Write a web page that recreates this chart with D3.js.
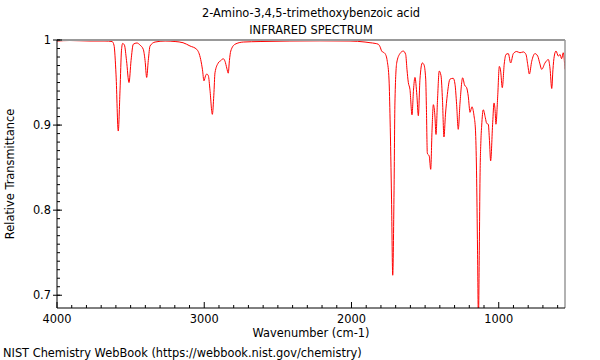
<!DOCTYPE html>
<html><head><meta charset="utf-8">
<script src="https://cdn.jsdelivr.net/npm/d3@7"></script>
<style>body{margin:0;background:#fff}svg{display:block;font-family:"DejaVu Sans",sans-serif}</style>
</head><body><svg id="c" width="600" height="360"></svg>
<script>
const titleLines = ["2-Amino-3,4,5-trimethoxybenzoic acid", "INFRARED SPECTRUM"];
const xLabel = "Wavenumber (cm-1)";
const yLabel = "Relative Transmittance";
const credit = "NIST Chemistry WebBook (https://webbook.nist.gov/chemistry)";
const xTicks = [4000, 3000, 2000, 1000];
const yTicks = [1, 0.9, 0.8, 0.7];
const yTickLabels = ["1", "0.9", "0.8", "0.7"];
const wavenumber = [4000,3912,3776,3674,3626,3613,3599,3584,3572,3562,3554,3542,3528,3511,3497,3482,3457,3436,3414,3402,3391,3380,3368,3334,3266,3198,3144,3097,3051,3024,3012,3002,2991,2983,2972,2961,2945,2935,2927,2905,2886,2871,2859,2847,2837,2829,2820,2791,2735,2621,2418,2214,2010,1908,1874,1840,1818,1806,1795,1772,1757,1745,1738,1728,1720,1711,1705,1693,1671,1648,1632,1623,1614,1603,1589,1579,1569,1556,1546,1535,1519,1508,1496,1491,1485,1472,1462,1453,1444,1434,1426,1416,1404,1392,1382,1372,1362,1349,1331,1309,1297,1286,1275,1263,1245,1232,1218,1207,1195,1182,1168,1158,1151,1144,1138,1132,1127,1121,1116,1105,1091,1082,1071,1063,1055,1041,1032,1025,1019,1007,996,987,976,962,951,935,919,901,878,856,833,815,803,792,776,754,735,722,708,686,663,652,640,632,623,611,595,584,573,562,550];
const transmittance = [0.9988,0.9994,0.9988,0.9988,0.9982,0.994,0.959,0.893,0.941,0.988,0.996,0.994,0.976,0.950,0.976,0.995,0.9965,0.994,0.989,0.976,0.956,0.976,0.993,0.9976,0.9988,0.9982,0.9968,0.993,0.989,0.977,0.965,0.952,0.958,0.960,0.958,0.941,0.9126,0.935,0.9615,0.973,0.976,0.978,0.975,0.967,0.961,0.976,0.987,0.995,0.9976,0.9982,0.9988,0.999,0.9988,0.9976,0.9968,0.996,0.995,0.992,0.987,0.984,0.975,0.953,0.907,0.812,0.7235,0.8235,0.926,0.973,0.984,0.987,0.983,0.965,0.950,0.942,0.912,0.941,0.956,0.935,0.911,0.954,0.973,0.971,0.954,0.918,0.867,0.8635,0.848,0.894,0.924,0.912,0.889,0.929,0.9635,0.958,0.929,0.886,0.912,0.936,0.954,0.955,0.948,0.924,0.895,0.926,0.9556,0.947,0.944,0.934,0.915,0.9215,0.911,0.894,0.847,0.753,0.67,0.753,0.84,0.882,0.899,0.918,0.9086,0.902,0.901,0.882,0.858,0.903,0.926,0.918,0.901,0.934,0.969,0.9635,0.944,0.973,0.983,0.984,0.973,0.984,0.9865,0.985,0.986,0.983,0.971,0.960,0.975,0.984,0.981,0.973,0.9655,0.973,0.977,0.967,0.943,0.965,0.981,0.987,0.981,0.983,0.978,0.985,0.9655];

const svg = d3.select("#c");
const L = 57, R = 565, T = 40, B = 308;
const FS = 11.4;
const x = d3.scaleLinear().domain([4000, 550]).range([L, R]);
const y = d3.scaleLinear().domain([0.685, 1.0]).range([B, T]);

svg.append("clipPath").attr("id","clip").append("rect")
  .attr("x", L).attr("y", T).attr("width", R - L).attr("height", B - T);

const data = wavenumber.map((w, i) => [w, transmittance[i]]);
svg.append("path").datum(data)
  .attr("clip-path", "url(#clip)")
  .attr("fill", "none").attr("stroke", "#ff0000").attr("stroke-width", 1)
  .attr("stroke-linejoin", "round")
  .attr("d", d3.line().x(d => x(d[0])).y(d => y(d[1])).curve(d3.curveMonotoneX));

// frame
svg.append("line").attr("x1", L).attr("x2", R).attr("y1", T).attr("y2", T).attr("stroke", "#999").attr("stroke-width", 2);
svg.append("line").attr("x1", R).attr("x2", R).attr("y1", T).attr("y2", B).attr("stroke", "#999").attr("stroke-width", 1.5);

// x axis
const xMinor = d3.range(4000, 549, -100);
const xa = svg.append("g").attr("transform", `translate(0,${B})`);
xa.append("line").attr("x1", L).attr("x2", R).attr("stroke", "#000");
xa.selectAll(".mn").data(xMinor).join("line")
  .attr("x1", d => x(d)).attr("x2", d => x(d)).attr("y1", 0).attr("y2", d => xTicks.includes(d) ? -6 : -3)
  .attr("stroke", "#000");
xa.selectAll("text").data(xTicks).join("text")
  .attr("x", d => x(d)).attr("y", 15).attr("text-anchor", "middle")
  .attr("font-size", FS).text(d => d);

// y axis
const yMinor = d3.range(70, 101).map(v => v / 100);
const ya = svg.append("g").attr("transform", `translate(${L},0)`);
ya.append("line").attr("y1", T).attr("y2", B).attr("stroke", "#000");
ya.selectAll(".mn").data(yMinor).join("line")
  .attr("y1", d => y(d)).attr("y2", d => y(d)).attr("x1", 0).attr("x2", 3)
  .attr("stroke", "#000");
ya.selectAll(".mj").data(yTicks).join("line")
  .attr("y1", d => y(d)).attr("y2", d => y(d)).attr("x1", -4).attr("x2", 5)
  .attr("stroke", "#000");
ya.selectAll("text").data(yTicks).join("text")
  .attr("x", -6).attr("y", d => y(d)).attr("dy", "0.35em").attr("text-anchor", "end")
  .attr("font-size", FS).text((d, i) => yTickLabels[i]);

// titles
svg.selectAll(".title").data(titleLines).join("text")
  .attr("x", 311).attr("y", (d, i) => 17 + i * 17).attr("text-anchor", "middle")
  .attr("font-size", FS).text(d => d);
svg.append("text").attr("x", 311).attr("y", 337).attr("text-anchor", "middle").attr("font-size", FS).text(xLabel);
svg.append("text").attr("transform", "translate(14,174) rotate(-90)").attr("text-anchor", "middle").attr("font-size", FS).text(yLabel);
svg.append("text").attr("x", 3).attr("y", 357).attr("font-size", FS).text(credit);
</script></body></html>
